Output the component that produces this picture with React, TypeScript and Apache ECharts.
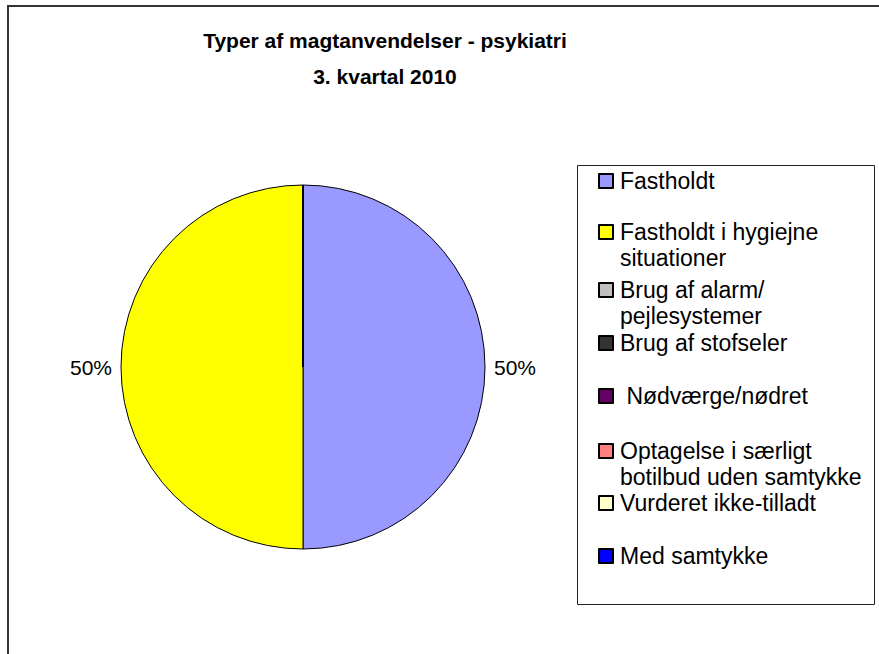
import React, { useEffect, useRef } from 'react';
import * as echarts from 'echarts';

const titleText = 'Typer af magtanvendelser - psykiatri\n3. kvartal 2010';

const categories = [
  'Fastholdt',
  'Fastholdt i hygiejne situationer',
  'Brug af alarm/pejlesystemer',
  'Brug af stofseler',
  'Nødværge/nødret',
  'Optagelse i særligt botilbud uden samtykke',
  'Vurderet ikke-tilladt',
  'Med samtykke',
];

const values = [1, 1, 0, 0, 0, 0, 0, 0];

const legendLines: string[][] = [
  ['Fastholdt'],
  ['Fastholdt i hygiejne', 'situationer'],
  ['Brug af alarm/', 'pejlesystemer'],
  ['Brug af stofseler'],
  [' Nødværge/nødret'],
  ['Optagelse i særligt', 'botilbud uden samtykke'],
  ['Vurderet ikke-tilladt'],
  ['Med samtykke'],
];

const colors = ['#9999FF', '#FFFF00', '#C0C0C0', '#333333', '#660066', '#FF8080', '#FFFFCC', '#0000FF'];

export default function App() {
  const ref = useRef<HTMLDivElement>(null);
  useEffect(() => {
    const chart = echarts.init(ref.current!, null, { renderer: 'svg' });
    const font = 'Arial, "Liberation Sans", Helvetica, sans-serif';
    const legendCenters = [181, 232, 290, 343, 396, 451, 503, 556];
    const LH = 26;
    const legends = categories.map((name, i) => {
      const lines = legendLines[i];
      const multi = lines.length > 1;
      const text = multi ? '\n' + lines.join('\n') : lines[0];
      const n = multi ? 3 : 1;
      return {
        data: [name],
        orient: 'vertical',
        left: 598,
        top: legendCenters[i] - (n * LH) / 2,
        padding: 0,
        itemWidth: 14,
        itemHeight: 14,
        icon: 'rect',
        selectedMode: false,
        formatter: () => text,
        textStyle: { fontSize: 23, lineHeight: LH, fontFamily: font, color: '#000', padding: [0, 0, 0, 2] },
      };
    });
    chart.setOption({
      animation: false,
      backgroundColor: '#fff',
      title: {
        text: titleText,
        left: 385,
        top: 22,
        padding: 0,
        textAlign: 'center',
        textStyle: { fontSize: 21, fontWeight: 'bold', lineHeight: 36, fontFamily: font, color: '#000' },
      },
      legend: legends,
      graphic: [
        { type: 'rect', shape: { x: 8, y: 6, width: 1000, height: 1000 }, style: { fill: 'none', stroke: '#333', lineWidth: 2 }, silent: true },
        { type: 'rect', shape: { x: 577.5, y: 165.5, width: 297, height: 439 }, style: { fill: 'none', stroke: '#222', lineWidth: 1 }, silent: true },
      ],
      series: [
        {
          type: 'pie',
          center: [303, 367],
          radius: 182,
          startAngle: 90,
          clockwise: true,
          silent: true,
          avoidLabelOverlap: false,
          data: categories.map((name, i) => ({ name, value: values[i], itemStyle: { color: colors[i] } })),
          itemStyle: { borderColor: '#000', borderWidth: 1 },
          label: {
            show: true,
            position: 'outside',
            formatter: (p: any) => (p.value ? `${Math.round(p.percent)}%` : ''),
            fontSize: 21,
            color: '#000',
            fontFamily: font,
          },
          labelLine: { show: false, length: 4, length2: 0 },
          emphasis: { disabled: true },
        },
      ],
    });
    return () => chart.dispose();
  }, []);
  return <div ref={ref} style={{ position: 'fixed', left: 0, top: 0, width: 879, height: 654 }} />;
}
